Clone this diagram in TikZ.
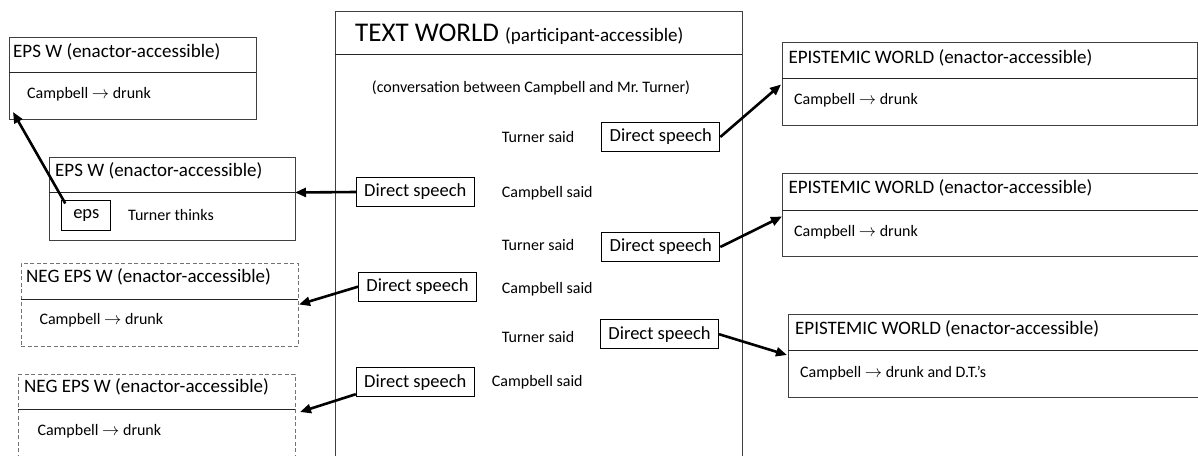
\documentclass[tikz,border=0pt]{standalone}
\usepackage{fontspec}
\setmainfont{Carlito}
\usetikzlibrary{arrows.meta, calc}

\begin{document}
\begin{tikzpicture}[x=1pt, y=-1pt,
  world/.style={draw=black!75, line width=0.9pt, anchor=north west, inner sep=0pt, outer sep=0pt},
  negworld/.style={world, draw=black!55, dash pattern=on 4pt off 2.5pt},
  divline/.style={draw=black!85, line width=0.9pt},
  head/.style={anchor=west, inner sep=0pt, font=\fontsize{19}{21}\selectfont},
  body/.style={anchor=west, inner sep=0pt, font=\fontsize{16}{18}\selectfont},
  said/.style={anchor=west, inner sep=0pt, font=\fontsize{16}{18}\selectfont},
  speech/.style={draw=black, line width=1pt, inner sep=0pt, minimum width=118pt, minimum height=29pt, font=\fontsize{18.5}{20}\selectfont},
  link/.style={-{Triangle[length=11pt, width=9pt]}, line width=2.6pt}]
\useasboundingbox (0,0) rectangle (1198,455);
\clip (0,0) rectangle (1198,455);

% text world in the middle
\node[world, minimum width=407pt, minimum height=470pt] (tw) at (335,11) {};
\draw[divline] ($(tw.north west)+(0,43.5)$) -- ($(tw.north east)+(0,43.5)$);
\node[anchor=base west, inner sep=0pt] (twt) at (355,41.7)
  {\fontsize{27}{30}\selectfont TEXT WORLD \fontsize{19}{22}\selectfont(participant-accessible)};
\node[inner sep=0pt, font=\fontsize{16}{18}\selectfont] (conv) at (531,88)
  {(conversation between Campbell and Mr.~Turner)};

\node[said] (ts1) at (501.7,136.7) {Turner said};
\node[said] (cs1) at (501.7,193) {Campbell said};
\node[said] (ts2) at (501.7,245) {Turner said};
\node[said] (cs2) at (501.7,289) {Campbell said};
\node[said] (ts3) at (501.7,336.7) {Turner said};
\node[said] (cs3) at (491.7,382.3) {Campbell said};

\node[speech] (ds1) at (660.8,137) {Direct speech};
\node[speech] (ds2) at (415.3,192) {Direct speech};
\node[speech] (ds3) at (660.8,247) {Direct speech};
\node[speech] (ds4) at (417.5,286.7) {Direct speech};
\node[speech] (ds5) at (659.5,334.2) {Direct speech};
\node[speech] (ds6) at (415.3,382.2) {Direct speech};

% left side: Turner's worlds
\node[world, minimum width=247pt, minimum height=82pt] (epsA) at (9,37) {};
\draw[divline] ($(epsA.north west)+(0,35)$) -- ($(epsA.north east)+(0,35)$) coordinate (epsA-r);
\node[head] (epsAh) at (13,52) {EPS W (enactor-accessible)};
\node[body] (epsAb) at (27,94.3) {Campbell $\rightarrow$ drunk};

\node[world, minimum width=246pt, minimum height=83pt] (epsB) at (49,157) {};
\draw[divline] ($(epsB.north west)+(0,35.5)$) -- ($(epsB.north east)+(0,35.5)$) coordinate (epsB-r);
\node[head] (epsBh) at (55,170.7) {EPS W (enactor-accessible)};
\node[speech, minimum width=49pt, minimum height=30pt] (eps) at (86.3,215) {eps};
\node[body] (tt) at (128,215) {Turner thinks};

\node[negworld, minimum width=277pt, minimum height=83pt] (negA) at (21,263) {};
\draw[divline] ($(negA.north west)+(0,36.5)$) -- ($(negA.north east)+(0,36.5)$) coordinate (negA-r);
\node[head] (negAh) at (26,276.7) {NEG EPS W (enactor-accessible)};
\node[body] (negAb) at (39.3,320) {Campbell $\rightarrow$ drunk};

\node[negworld, minimum width=277pt, minimum height=100pt] (negB) at (18,374) {};
\draw[divline] ($(negB.north west)+(0,35.5)$) -- ($(negB.north east)+(0,35.5)$) coordinate (negB-r);
\node[head] (negBh) at (24,386.7) {NEG EPS W (enactor-accessible)};
\node[body] (negBb) at (37.3,431.7) {Campbell $\rightarrow$ drunk};

% right side: Campbell's worlds
\node[world, minimum width=415.5pt, minimum height=83pt] (epiA) at (782,42) {};
\draw[divline] ($(epiA.north west)+(0,36.5)$) coordinate (epiA-l) -- ($(epiA.north east)+(0,36.5)$);
\node[head] (epiAh) at (788.3,57.5) {EPISTEMIC WORLD (enactor-accessible)};
\node[body] (epiAb) at (794,100) {Campbell $\rightarrow$ drunk};

\node[world, minimum width=416.5pt, minimum height=83pt] (epiB) at (782,173) {};
\draw[divline] ($(epiB.north west)+(0,37)$) coordinate (epiB-l) -- ($(epiB.north east)+(0,37)$);
\node[head] (epiBh) at (788.3,188) {EPISTEMIC WORLD (enactor-accessible)};
\node[body] (epiBb) at (794,232) {Campbell $\rightarrow$ drunk};

\node[world, minimum width=411pt, minimum height=83pt] (epiC) at (788,314) {};
\draw[divline] ($(epiC.north west)+(0,36)$) coordinate (epiC-l) -- ($(epiC.north east)+(0,36)$);
\node[head] (epiCh) at (795,329) {EPISTEMIC WORLD (enactor-accessible)};
\node[body] (epiCb) at (800,373.3) {Campbell $\rightarrow$ drunk and D.T.’s};

% links between worlds
\draw[link] (ds1.east) -- ($(epiA-l)+(-1,6)$);
\draw[link] (ds3.east) -- ($(epiB-l)+(0,6.5)$);
\draw[link] (ds5.east) -- ($(epiC-l)+(-1,5)$);
\draw[link] (ds2.west) -- (epsB-r);
\draw[link] (ds4.west) -- ($(negA-r)+(1,5)$);
\draw[link] ($(ds6.south west)+(0,-3)$) -- ($(negB-r)+(5,2.5)$);
\draw[link] ($(eps.north west)+(4,4)$) -- ($(epsA.south west)+(4,-7)$);
\end{tikzpicture}
\end{document}
